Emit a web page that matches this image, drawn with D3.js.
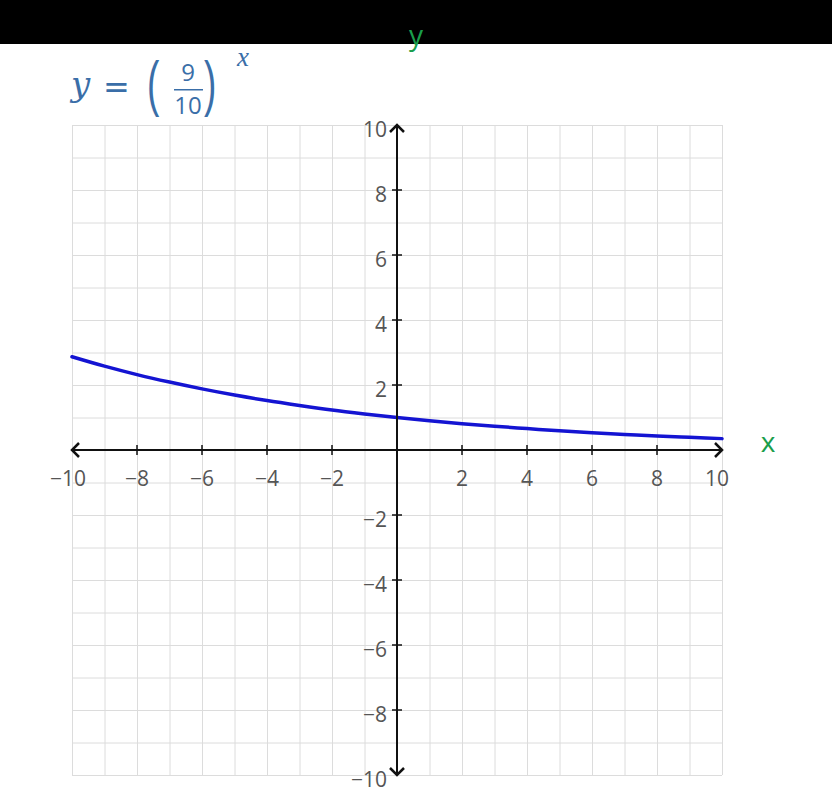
<!DOCTYPE html>
<html>
<head>
<meta charset="utf-8">
<script src="https://cdn.jsdelivr.net/npm/d3@7"></script>
<style>
  html, body { margin: 0; padding: 0; background: #fff; }
  svg { display: block; }
</style>
</head>
<body>
<div id="chart"></div>
<script>
// values
const xTicks = [-10, -8, -6, -4, -2, 2, 4, 6, 8, 10];
const yTicks = [-10, -8, -6, -4, -2, 2, 4, 6, 8, 10];
const gridValues = d3.range(-10, 11);
const curveX = [-10, -9, -8, -7, -6, -5, -4, -3, -2, -1, 0, 1, 2, 3, 4, 5, 6, 7, 8, 9, 10];
const curveY = [2.87, 2.58, 2.32, 2.09, 1.88, 1.69, 1.52, 1.37, 1.23, 1.11, 1.0,
                0.9, 0.81, 0.73, 0.66, 0.59, 0.53, 0.48, 0.43, 0.39, 0.35];

function drawChart() {
  const W = 832, H = 810;
  const svg = d3.select("#chart").append("svg")
    .attr("width", W).attr("height", H);

  const x = d3.scaleLinear([-10, 10], [72, 722]);
  const y = d3.scaleLinear([-10, 10], [775, 125]);

  // grid
  const grid = svg.append("g").attr("stroke", "#dcdcdc").attr("stroke-width", 1);
  grid.selectAll("line.v").data(gridValues).join("line")
    .attr("x1", (d) => x(d) + 0.5).attr("x2", (d) => x(d) + 0.5)
    .attr("y1", y(10)).attr("y2", y(-10));
  grid.selectAll("line.h").data(gridValues).join("line")
    .attr("y1", (d) => y(d) + 0.5).attr("y2", (d) => y(d) + 0.5)
    .attr("x1", x(-10)).attr("x2", x(10));

  // curve
  const line = d3.line()
    .x((d, i) => x(curveX[i]))
    .y((d) => y(d))
    .curve(d3.curveMonotoneX);
  svg.append("path")
    .datum(curveY)
    .attr("d", line)
    .attr("fill", "none")
    .attr("stroke", "#1414d2")
    .attr("stroke-width", 3.5)
    .attr("stroke-linecap", "round");

  // axes
  const ax = svg.append("g").attr("stroke", "#111").attr("fill", "none");
  const x0 = x(0), y0 = y(0);
  ax.append("line").attr("x1", x(-10)).attr("x2", x(10))
    .attr("y1", y0).attr("y2", y0).attr("stroke-width", 2);
  ax.append("line").attr("y1", y(-10)).attr("y2", y(10))
    .attr("x1", x0).attr("x2", x0).attr("stroke-width", 2);

  const a = 7;
  const arrows = [
    [[x(-10) + a, y0 - a], [x(-10), y0], [x(-10) + a, y0 + a]],
    [[x(10) - a, y0 - a], [x(10), y0], [x(10) - a, y0 + a]],
    [[x0 - a, y(10) + a], [x0, y(10)], [x0 + a, y(10) + a]],
    [[x0 - a, y(-10) - a], [x0, y(-10)], [x0 + a, y(-10) - a]],
  ];
  ax.selectAll("path.arrow").data(arrows).join("path")
    .attr("d", (d) => d3.line()(d))
    .attr("stroke-width", 2.5)
    .attr("stroke-linejoin", "miter");

  // ticks
  ax.selectAll("line.xt").data(xTicks.filter((d) => Math.abs(d) < 10)).join("line")
    .attr("x1", (d) => x(d)).attr("x2", (d) => x(d))
    .attr("y1", y0 - 5).attr("y2", y0 + 5).attr("stroke-width", 1.5);
  ax.selectAll("line.yt").data(yTicks.filter((d) => Math.abs(d) < 10)).join("line")
    .attr("y1", (d) => y(d)).attr("y2", (d) => y(d))
    .attr("x1", x0 - 5).attr("x2", x0 + 5).attr("stroke-width", 1.5);

  const fmt = (d) => (d < 0 ? "\u2212" + Math.abs(d) : String(d));
  const labelFont = "'Open Sans', 'Liberation Sans', sans-serif";

  svg.append("g").selectAll("text").data(xTicks).join("text")
    .attr("x", (d) => x(d) + (d === 10 ? -5 : d === -10 ? -4 : 0))
    .attr("y", y0 + 36)
    .attr("text-anchor", "middle")
    .attr("font-family", labelFont)
    .attr("font-size", 21)
    .attr("fill", "#555")
    .text(fmt);

  svg.append("g").selectAll("text").data(yTicks).join("text")
    .attr("x", x0 - 10)
    .attr("y", (d) => y(d) + 12)
    .attr("text-anchor", "end")
    .attr("font-family", labelFont)
    .attr("font-size", 21)
    .attr("fill", "#555")
    .text(fmt);

  // black band at top
  svg.append("rect").attr("x", 0).attr("y", 0).attr("width", W).attr("height", 44).attr("fill", "#000");

  // axis names
  const green = "#1a9e4b";
  svg.append("text").attr("x", 416).attr("y", 45)
    .attr("text-anchor", "middle").attr("font-family", labelFont)
    .attr("font-size", 28).attr("fill", green).text("y");
  svg.append("text").attr("x", 768).attr("y", 452)
    .attr("text-anchor", "middle").attr("font-family", labelFont)
    .attr("font-size", 28).attr("fill", green).text("x");

  // formula title
  const blue = "#3a6ea8";
  const t = svg.append("g").attr("fill", blue);
  t.append("text").attr("x", 71).attr("y", 96)
    .attr("font-family", "'DejaVu Serif', serif").attr("font-style", "italic")
    .attr("font-size", 34).text("y");
  t.append("text").attr("x", 103).attr("y", 98)
    .attr("font-family", "'DejaVu Sans', sans-serif")
    .attr("font-size", 32).text("=");
  // tall thin brackets
  [["(", 147], [")", 204]].forEach(([ch, px]) => {
    t.append("text")
      .attr("transform", `translate(${px},104) scale(1,1.65)`)
      .attr("font-family", "'Liberation Sans', sans-serif")
      .attr("font-size", 37).text(ch);
  });
  t.append("text").attr("x", 188).attr("y", 81)
    .attr("text-anchor", "middle")
    .attr("font-family", "'Open Sans', sans-serif")
    .attr("font-size", 24).text("9");
  t.append("rect").attr("x", 174).attr("y", 89).attr("width", 29).attr("height", 1.5);
  t.append("text").attr("x", 188).attr("y", 114)
    .attr("text-anchor", "middle")
    .attr("font-family", "'Open Sans', sans-serif")
    .attr("font-size", 24).text("10");
  t.append("text").attr("x", 237).attr("y", 66)
    .attr("font-family", "'Liberation Serif', serif").attr("font-style", "italic")
    .attr("font-size", 27).text("x");
}

drawChart();
</script>
</body>
</html>
